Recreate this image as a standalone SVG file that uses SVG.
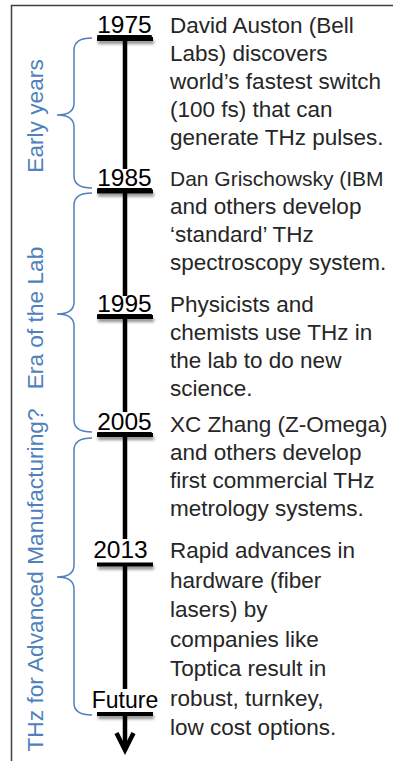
<svg xmlns="http://www.w3.org/2000/svg" width="393" height="761" viewBox="0 0 393 761">
<defs>
<style>
.body{font-family:"Liberation Sans",Arial,sans-serif;font-size:22.5px;fill:#262626}
.year{font-family:"Liberation Sans",Arial,sans-serif;font-size:24.5px;fill:#000;text-anchor:middle}
.lab{font-family:"Liberation Sans",Arial,sans-serif;font-size:22.7px;fill:#4F81BD;text-anchor:middle}
.brace{fill:none;stroke:#4F81BD;stroke-width:1.5}
.bar{fill:#000;filter:url(#sh)}
.tl{stroke:#000;stroke-width:4.5;fill:none}
</style>
<filter id="sh" x="-20%" y="-100%" width="140%" height="400%">
<feGaussianBlur in="SourceAlpha" stdDeviation="1.8"/>
<feOffset dx="1" dy="3" result="b"/>
<feComponentTransfer><feFuncA type="linear" slope="0.45"/></feComponentTransfer>
<feMerge><feMergeNode/><feMergeNode in="SourceGraphic"/></feMerge>
</filter>
</defs>
<rect x="11.5" y="5.5" width="400" height="800" fill="#fff" stroke="#404040" stroke-width="1.5"/>
<g id="connectors">
<path class="tl" d="M125 39V169M125 191V296M125 317V412M125 435V539M125 564V689M125 714V750"/>
<polyline class="tl" points="116.5,733 125,750 133.5,733"/>
</g>
<g id="brace-early">
<path class="brace" d="M92 38Q74 38 74 50V103Q74 115 57 115Q74 115 74 127V176Q74 188 92 188"/>
<text class="lab" transform="translate(43,116) rotate(-90)">Early years</text>
</g>
<g id="brace-lab">
<path class="brace" d="M92 193Q74 193 74 205V302Q74 314 57 314Q74 314 74 326V420Q74 432 92 432"/>
<text class="lab" transform="translate(43,318) rotate(-90)">Era of the Lab</text>
</g>
<g id="brace-manufacturing">
<path class="brace" d="M92 438Q74 438 74 450V565Q74 577 57 577Q74 577 74 589V703Q74 715 92 715"/>
<text class="lab" transform="translate(43,580) rotate(-90)">THz for Advanced Manufacturing?</text>
</g>
<g id="node-1975">
<rect class="bar" x="97" y="37" width="56" height="4"/>
<text class="year" x="124.5" y="33" text-decoration="underline">1975</text>
<text class="body"><tspan x="170" y="33">David Auston (Bell</tspan><tspan x="170" y="61">Labs) discovers</tspan><tspan x="170" y="89">world’s fastest switch</tspan><tspan x="170" y="117">(100 fs) that can</tspan><tspan x="170" y="145">generate THz pulses.</tspan></text>
</g>
<g id="node-1985">
<rect class="bar" x="97" y="189.5" width="56" height="4"/>
<text class="year" x="124.5" y="186" text-decoration="underline">1985</text>
<text class="body"><tspan x="170" y="186" style="font-size:21px">Dan Grischowsky (IBM</tspan><tspan x="170" y="214">and others develop</tspan><tspan x="170" y="242">‘standard’ THz</tspan><tspan x="170" y="270">spectroscopy system.</tspan></text>
</g>
<g id="node-1995">
<rect class="bar" x="97" y="315" width="56" height="4"/>
<text class="year" x="124.5" y="312" text-decoration="underline">1995</text>
<text class="body"><tspan x="170" y="312">Physicists and</tspan><tspan x="170" y="340">chemists use THz in</tspan><tspan x="170" y="368">the lab to do new</tspan><tspan x="170" y="396">science.</tspan></text>
</g>
<g id="node-2005">
<rect class="bar" x="97" y="433" width="56" height="4"/>
<text class="year" x="124.5" y="430" text-decoration="underline">2005</text>
<text class="body"><tspan x="170" y="432">XC Zhang (Z-Omega)</tspan><tspan x="170" y="460">and others develop</tspan><tspan x="170" y="488">first commercial THz</tspan><tspan x="170" y="516">metrology systems.</tspan></text>
</g>
<g id="node-2013">
<rect class="bar" x="97" y="562.5" width="56" height="4"/>
<text class="year" x="120.5" y="558">2013</text>
<text class="body"><tspan x="170" y="558">Rapid advances in</tspan><tspan x="170" y="587.5">hardware (fiber</tspan><tspan x="170" y="617">lasers) by</tspan><tspan x="170" y="646.5">companies like</tspan><tspan x="170" y="676">Toptica result in</tspan><tspan x="170" y="705.5">robust, turnkey,</tspan><tspan x="170" y="735">low cost options.</tspan></text>
</g>
<g id="node-future">
<rect class="bar" x="97" y="712" width="56" height="4"/>
<text class="year" x="125" y="708" style="font-size:23px">Future</text>
</g>
</svg>
